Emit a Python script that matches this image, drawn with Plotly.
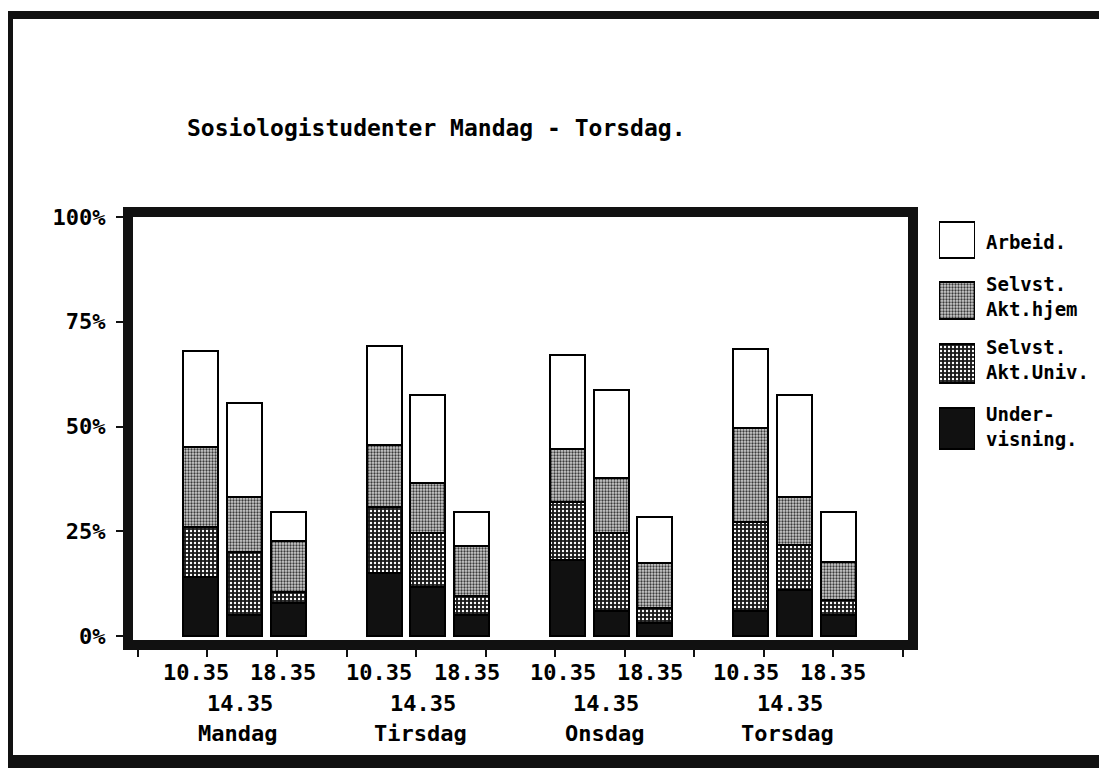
import numpy as np
import plotly.graph_objects as go

# ---------------- data ----------------
days = ["Mandag", "Tirsdag", "Onsdag", "Torsdag"]
times = ["10.35", "14.35", "18.35"]
title_text = "Sosiologistudenter Mandag - Torsdag."

# values in %, order: for each day -> 10.35, 14.35, 18.35
undervisning = [14.0, 5.0, 7.9, 15.0, 11.8, 5.1, 18.1, 6.0, 3.1, 6.0, 11.0, 5.1]
akt_univ = [12.1, 15.1, 2.7, 15.8, 12.7, 4.4, 13.9, 18.5, 3.7, 21.1, 10.7, 3.5]
akt_hjem = [19.1, 13.0, 12.1, 14.8, 12.1, 11.9, 12.6, 13.1, 10.7, 22.5, 11.5, 9.1]
arbeid = [22.8, 22.4, 6.9, 23.5, 20.9, 8.1, 22.5, 21.0, 11.0, 18.9, 24.3, 11.9]

y_tick_vals = [0, 25, 50, 75, 100]
y_tick_text = ["0%", "25%", "50%", "75%", "100%"]

legend_labels = {
    "Arbeid.": "Arbeid.",
    "Selvst. Akt.hjem": "Selvst.<br>Akt.hjem",
    "Selvst. Akt.Univ.": "Selvst.<br>Akt.Univ.",
    "Undervisning.": "Under-<br>visning.",
}

# ---------------- layout helpers (page pixel coordinates) ----------------
W, H = 1107, 768
OFF = 8                      # the page body margin the figure sits in
PL, PR, PT, PB = 133, 1100, 217, 640   # plot area on the page
ML, MT = PL - OFF, PT - OFF
MR, MB = W - (PR - OFF), H - (PB - OFF)
PW, PH = PR - PL, PB - PT


def px(x):
    return (x - PL) / PW


def py(y):
    return 1 - (y - PT) / PH


FONT = "DejaVu Sans Mono"
offsets = [-0.2384, 0.0, 0.2384]
bar_w = 0.191
xpos = [d + o for d in range(len(days)) for o in offsets]

styles = {
    "Undervisning.": dict(color="#111111", line=dict(color="black", width=2)),
    "Selvst. Akt.Univ.": dict(color="#1a1a1a", line=dict(color="black", width=2),
                              pattern=dict(shape=".", fgcolor="#ffffff", bgcolor="#1a1a1a",
                                           size=4, solidity=0.28, fillmode="replace")),
    "Selvst. Akt.hjem": dict(color="#bdbdbd", line=dict(color="black", width=2),
                             pattern=dict(shape=".", fgcolor="#3a3a3a", bgcolor="#cfcfcf",
                                          size=3, solidity=0.45, fillmode="replace")),
    "Arbeid.": dict(color="#ffffff", line=dict(color="black", width=2)),
}
series = [("Undervisning.", undervisning), ("Selvst. Akt.Univ.", akt_univ),
          ("Selvst. Akt.hjem", akt_hjem), ("Arbeid.", arbeid)]

fig = go.Figure()
for name, vals in series:
    fig.add_trace(go.Bar(x=xpos, y=vals, width=bar_w, name=name,
                         marker=styles[name], showlegend=False,
                         xaxis="x", yaxis="y"))

# legend swatches (same marker styles) on a helper axis in page-pixel units
legend_order = ["Arbeid.", "Selvst. Akt.hjem", "Selvst. Akt.Univ.", "Undervisning."]
legend_box_top = [222, 282, 344, 408]
legend_box_bot = [258, 319, 383, 449]
legend_text_y = [242, 296, 359, 426]
for i, name in enumerate(legend_order):
    fig.add_trace(go.Bar(x=[0.5], y=[legend_box_bot[i] - legend_box_top[i]],
                         base=[legend_box_top[i]], width=1.0,
                         marker=styles[name], showlegend=False,
                         xaxis="x2", yaxis="y2", hoverinfo="skip"))
    fig.add_annotation(x=px(984), y=py(legend_text_y[i]), xref="paper", yref="paper",
                       text=legend_labels[name], showarrow=False, xanchor="left",
                       yanchor="middle", align="left",
                       font=dict(family=FONT, size=19, color="black", weight="bold"))

# x category labels
label_rows = [672, 703, 733]
for d, day in enumerate(days):
    for t, tm in enumerate(times):
        row = label_rows[0] if t != 1 else label_rows[1]
        fig.add_annotation(x=d + offsets[t], y=py(row), xref="x", yref="paper",
                           text=tm, showarrow=False, xanchor="center", yanchor="middle",
                           xshift=-5, font=dict(family=FONT, size=22, color="black",
                                                weight="bold"))
    fig.add_annotation(x=d, y=py(label_rows[2]), xref="x", yref="paper",
                       text=day, showarrow=False, xanchor="center", yanchor="middle",
                       xshift=-7, font=dict(family=FONT, size=22, color="black",
                                            weight="bold"))

# title
fig.add_annotation(x=px(185), y=py(128), xref="paper", yref="paper", text=title_text,
                   showarrow=False, xanchor="left", yanchor="middle",
                   font=dict(family=FONT, size=23, color="black", weight="bold"))

# outer page frame
frame_rects = [(8, 11, 1115, 19), (8, 11, 13, 776), (8, 755, 1115, 776)]
for x0, y0, x1, y1 in frame_rects:
    fig.add_shape(type="rect", xref="paper", yref="paper",
                  x0=px(x0), x1=px(x1), y0=py(y0), y1=py(y1),
                  fillcolor="#111111", line=dict(width=0), layer="above")

xmin, xmax = -0.609, 3.619
x_main_right = 908
fig.update_layout(
    width=W, height=H,
    margin=dict(l=ML, r=MR, t=MT, b=MB, pad=0),
    paper_bgcolor="white", plot_bgcolor="white",
    barmode="stack", bargap=0,
    font=dict(family=FONT, size=22, color="black"),
    xaxis=dict(domain=[0, px(x_main_right)], range=[xmin, xmax], showgrid=False,
               zeroline=False, showline=True, linewidth=10, linecolor="#111111",
               mirror=True, ticks="outside", ticklen=7, tickwidth=2, tickcolor="#111111",
               tickvals=list(np.linspace(-0.582, 3.59, 12)), showticklabels=False,
               fixedrange=True),
    yaxis=dict(range=[-0.955, 100], showgrid=False, zeroline=False,
               showline=True, linewidth=10, linecolor="#111111", mirror=True,
               ticks="outside", ticklen=7, tickwidth=2, tickcolor="#111111",
               tickvals=y_tick_vals, ticktext=y_tick_text,
               tickfont=dict(family=FONT, size=22, color="black", weight="bold"),
               ticklabelstandoff=6, fixedrange=True),
    xaxis2=dict(domain=[px(939), px(975)], range=[0, 1], visible=False,
                anchor="y2", fixedrange=True),
    yaxis2=dict(domain=[0, 1], range=[PB, PT], visible=False,
                anchor="x2", fixedrange=True),
)

fig.write_html("out.html")
